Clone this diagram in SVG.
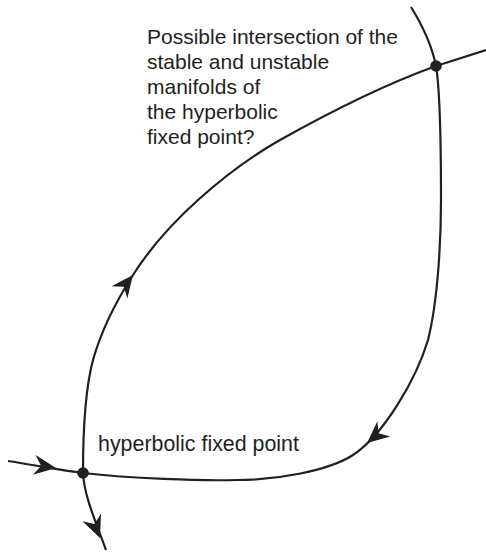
<svg xmlns="http://www.w3.org/2000/svg" xmlns:xlink="http://www.w3.org/1999/xlink" width="486" height="552" viewBox="0 0 486 552">
<style>
.curve{fill:none;stroke:#231f20;stroke-width:2.2;stroke-linecap:butt}
.dot{fill:#231f20}
.lbl{font-family:"Liberation Sans",Arial,sans-serif;font-size:21px;fill:#231f20}
</style>
<defs>
<path id="arr" d="M0,0 L-22,-10 L-15,0 L-22,10 Z" fill="#231f20"/>
</defs>
<rect width="486" height="552" fill="#ffffff"/>
<g id="connectors">
<path id="stable" class="curve" d="M8,461 C40,466 60,470 83,473 C130,478.5 200,481 237,480 C277,480 328,471 353,455 C383,435.5 416,380 428,340 C438,300 441,240 441,200 C441,160 440,90 436,66 C432,46 424,28 411,7"/>
<path id="unstable" class="curve" d="M106,550 C95,520 84,495 83,473 C83,430 86.3,385 93,360 C102,328 115,303 133,275 C152,245 173,222.5 198,200 C223,177.5 250,157 280,140 C330,112 386,84 436,66 L486,50"/>
<use xlink:href="#arr" href="#arr" transform="translate(56,468) rotate(8)"/>
<use xlink:href="#arr" href="#arr" transform="translate(100,538) rotate(68)"/>
<use xlink:href="#arr" href="#arr" transform="translate(133,275) rotate(-52)"/>
<use xlink:href="#arr" href="#arr" transform="translate(367,443) rotate(140)"/>
</g>
<g id="hyperbolic-point">
<circle class="dot" cx="83" cy="473" r="5.8"/>
<text class="lbl" x="98" y="451" style="font-size:21.4px">hyperbolic fixed point</text>
</g>
<g id="intersection-point">
<circle class="dot" cx="436" cy="66" r="5.8"/>
<text class="lbl" x="147" y="44">Possible intersection of the</text>
<text class="lbl" x="147" y="69">stable and unstable</text>
<text class="lbl" x="147" y="94">manifolds of</text>
<text class="lbl" x="147" y="119">the hyperbolic</text>
<text class="lbl" x="147" y="144">fixed point?</text>
</g>
</svg>
